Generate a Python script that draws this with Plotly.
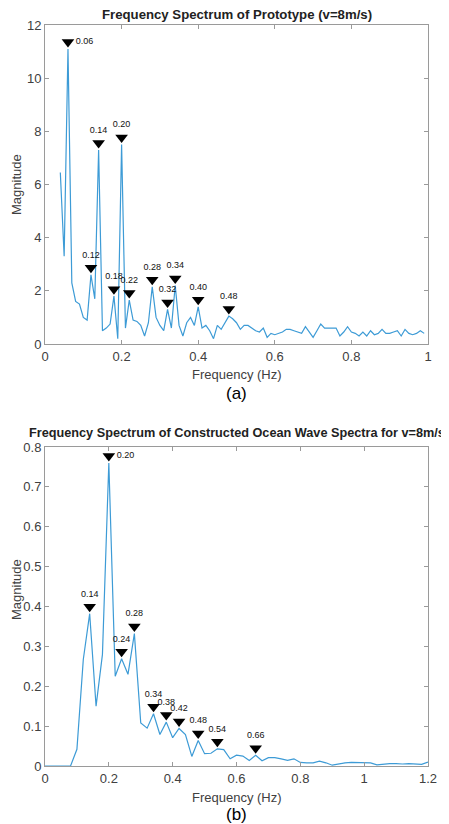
import plotly.graph_objects as go

# ---------- data: (a) prototype spectrum ----------
freq_a = [round(0.04 + 0.01 * i, 2) for i in range(96)]
mag_a = [6.45, 3.3, 11.1, 2.3, 1.6, 1.5, 1.0, 0.9, 2.6, 1.7,
         7.3, 0.5, 0.6, 0.75, 1.8, 0.2, 7.5, 0.6, 1.65, 0.9,
         0.85, 0.7, 0.3, 0.8, 2.15, 1.0, 0.7, 0.5, 1.3, 0.6,
         2.2, 0.7, 0.3, 0.8, 1.0, 0.7, 1.4, 0.6, 0.7, 0.5,
         0.2, 0.7, 0.55, 0.8, 1.05, 0.95, 0.8, 0.55, 0.7, 0.7,
         0.6, 0.5, 0.45, 0.6, 0.25, 0.4, 0.35, 0.4, 0.45, 0.55,
         0.55, 0.5, 0.45, 0.4, 0.65, 0.45, 0.25, 0.5, 0.75, 0.6,
         0.6, 0.6, 0.6, 0.3, 0.45, 0.65, 0.45, 0.4, 0.3, 0.45,
         0.3, 0.5, 0.35, 0.4, 0.55, 0.4, 0.4, 0.45, 0.5, 0.3,
         0.55, 0.4, 0.35, 0.4, 0.5, 0.4]
peaks_a = [0.06, 0.12, 0.14, 0.18, 0.20, 0.22, 0.28, 0.32, 0.34, 0.40, 0.48]
xticks_a = [0, 0.2, 0.4, 0.6, 0.8, 1]
yticks_a = [0, 2, 4, 6, 8, 10, 12]

# ---------- data: (b) constructed ocean wave spectrum ----------
freq_b = [round(0.02 * i, 2) for i in range(61)]
mag_b = [0.0, 0.0, 0.0, 0.0, 0.0, 0.042, 0.267, 0.382, 0.15, 0.28,
         0.76, 0.225, 0.269, 0.23, 0.332, 0.108, 0.095, 0.131, 0.079, 0.110,
         0.071, 0.094, 0.079, 0.024, 0.064, 0.031, 0.032, 0.043, 0.041, 0.018,
         0.027, 0.025, 0.014, 0.027, 0.013, 0.021, 0.021, 0.018, 0.014, 0.018,
         0.009, 0.008, 0.008, 0.012, 0.008, 0.002, 0.005, 0.008, 0.009, 0.009,
         0.009, 0.008, 0.003, 0.005, 0.006, 0.006, 0.005, 0.006, 0.005, 0.004,
         0.01]
peaks_b = [0.14, 0.20, 0.24, 0.28, 0.34, 0.38, 0.42, 0.48, 0.54, 0.66]
xticks_b = [0, 0.2, 0.4, 0.6, 0.8, 1, 1.2]
yticks_b = [0, 0.1, 0.2, 0.3, 0.4, 0.5, 0.6, 0.7, 0.8]

LINE = "#3d9bd6"
FONT = "Liberation Sans, Arial, sans-serif"
TICKC = "#404040"
AXC = "#9a9a9a"

fig = go.Figure()


def add_panel(freq, mag, peaks, ytop, xa, ya, side_labels):
    lookup = dict(zip(freq, mag))
    fig.add_trace(go.Scatter(x=freq, y=mag, mode="lines",
                             line=dict(color=LINE, width=1.2),
                             xaxis=xa, yaxis=ya, showlegend=False, hoverinfo="x+y"))
    off = ytop * 0.022
    py = [lookup[p] + off for p in peaks]
    pos = ["middle right" if p in side_labels else "top center" for p in peaks]
    txt = [("%.2f" % p) for p in peaks]
    fig.add_trace(go.Scatter(x=peaks, y=py, mode="markers+text",
                             marker=dict(symbol="triangle-down", size=11, color="black"),
                             text=txt, textposition=pos,
                             textfont=dict(family=FONT, size=9, color="#111"),
                             xaxis=xa, yaxis=ya, showlegend=False, cliponaxis=False))


add_panel(freq_a, mag_a, peaks_a, yticks_a[-1], "x", "y", [0.06])
add_panel(freq_b, mag_b, peaks_b, yticks_b[-1], "x2", "y2", [0.20])

# page body has an 8px margin: the figure starts at (8, 8) in the window
OFF = 8
W, H = 449 - OFF, 824 - OFF


def px(xp):
    return (xp - OFF) / W


def py_(yp):
    return 1 - (yp - OFF) / H


xdom = [px(45), px(428)]
ydom_a = [py_(344), py_(25)]
ydom_b = [py_(766), py_(447)]

axis_common = dict(showline=True, linecolor=AXC, linewidth=1, mirror="ticks",
                   ticks="inside", ticklen=4, tickcolor=AXC, showgrid=False,
                   zeroline=False, automargin=False,
                   tickfont=dict(family=FONT, size=13, color=TICKC))

fig.update_layout(
    width=W, height=H, autosize=False,
    margin=dict(l=0, r=0, t=0, b=0),
    paper_bgcolor="white", plot_bgcolor="white",
    xaxis=dict(domain=xdom, anchor="y", range=[0, 1], tickvals=xticks_a,
               ticktext=[("%g" % v) for v in xticks_a], **axis_common),
    yaxis=dict(domain=ydom_a, anchor="x", range=[0, 12], tickvals=yticks_a,
               ticktext=[("%g" % v) for v in yticks_a], **axis_common),
    xaxis2=dict(domain=xdom, anchor="y2", range=[0, 1.2], tickvals=xticks_b,
                ticktext=[("%g" % v) for v in xticks_b], **axis_common),
    yaxis2=dict(domain=ydom_b, anchor="x2", range=[0, 0.8], tickvals=yticks_b,
                ticktext=[("%g" % v) for v in yticks_b], **axis_common),
)

cx = (xdom[0] + xdom[1]) / 2
ann = [
    dict(text="<b>Frequency Spectrum of Prototype (v=8m/s)</b>", x=cx, y=py_(15),
         font=dict(size=13.2, color="#222")),
    dict(text="<b>Frequency Spectrum of Constructed Ocean Wave Spectra for v=8m/s</b>",
         x=cx, y=py_(433), font=dict(size=12.7, color="#222")),
    dict(text="Magnitude", x=px(16), y=py_(185), textangle=-90,
         font=dict(size=13, color=TICKC)),
    dict(text="Magnitude", x=px(16), y=py_(590), textangle=-90,
         font=dict(size=13, color=TICKC)),
    dict(text="Frequency (Hz)", x=cx, y=py_(375), font=dict(size=13, color=TICKC)),
    dict(text="Frequency (Hz)", x=cx, y=py_(797), font=dict(size=13, color=TICKC)),
    dict(text="(a)", x=cx, y=py_(393), font=dict(size=17, color="black")),
    dict(text="(b)", x=cx, y=py_(814), font=dict(size=17, color="black")),
]
for a in ann:
    a.update(xref="paper", yref="paper", showarrow=False, xanchor="center", yanchor="middle")
    a["font"]["family"] = FONT
fig.update_layout(annotations=ann)

fig.write_html("out.html")
